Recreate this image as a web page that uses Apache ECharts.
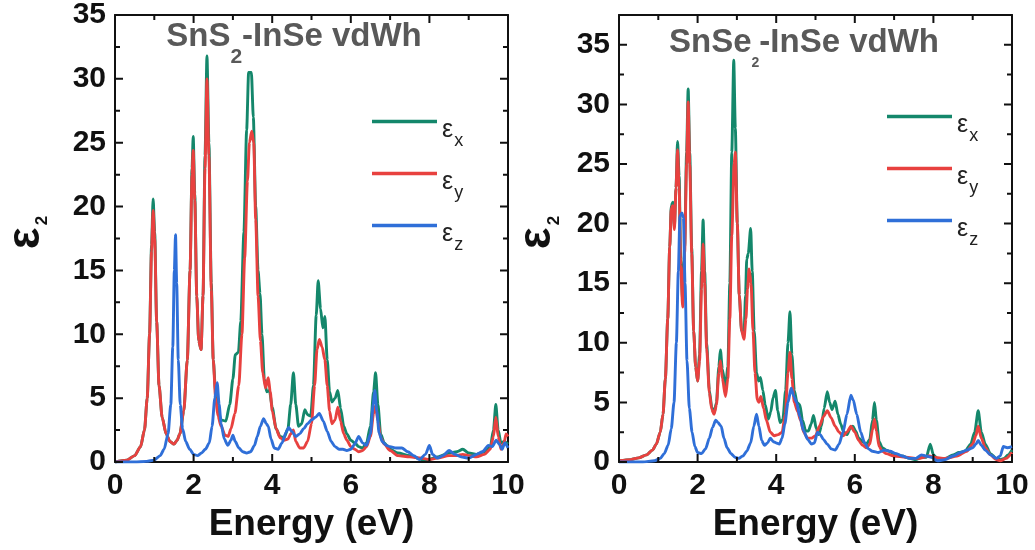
<!DOCTYPE html>
<html>
<head>
<meta charset="utf-8">
<script src="https://cdn.jsdelivr.net/npm/echarts@6/dist/echarts.min.js"></script>
<style>
  html, body { margin: 0; padding: 0; background: #fff; }
  #chart { width: 1035px; height: 550px; }
</style>
</head>
<body>
<div id="chart"></div>
<script>
// Imaginary part of the dielectric function, eps2 vs photon energy (eV)
// Each series: [energy (eV), eps2]

// SnS2-InSe heterostructure
const sns2EpsX = [[0,0],[0.3,0.15],[0.5,0.5],[0.65,1.2],[0.75,2.5],[0.82,5],[0.88,10],[0.93,17],[0.97,20.6],[1.01,18],[1.06,11],[1.12,6],[1.2,3.5],[1.3,2.2],[1.4,1.6],[1.5,1.4],[1.58,1.7],[1.65,2.2],[1.75,4],[1.84,8],[1.91,15],[1.96,23],[1.99,25.5],[2.03,21],[2.08,13],[2.13,9.5],[2.19,8.8],[2.24,13],[2.29,24],[2.34,31.8],[2.39,25],[2.45,14],[2.5,8],[2.56,5.5],[2.62,4],[2.7,3.3],[2.82,3.2],[2.92,4.5],[3.0,6.5],[3.06,8.4],[3.14,8.6],[3.2,11],[3.28,18],[3.35,26],[3.4,30.5],[3.47,30.5],[3.52,27],[3.58,20],[3.64,15],[3.69,13.2],[3.74,10],[3.8,6.5],[3.86,5.5],[3.93,5.6],[4.0,4.3],[4.1,2.6],[4.2,2.0],[4.3,1.9],[4.4,2.6],[4.47,4.5],[4.54,7.0],[4.6,4.5],[4.67,2.8],[4.75,3.0],[4.83,4.1],[4.9,3.7],[4.98,3.6],[5.05,6],[5.12,11.5],[5.17,14.2],[5.23,12],[5.29,10.5],[5.34,11.4],[5.4,8],[5.46,5.5],[5.52,4.7],[5.6,5.0],[5.67,5.6],[5.74,4.2],[5.82,2.8],[5.9,2.2],[6.0,1.7],[6.1,1.5],[6.2,1.2],[6.3,1.1],[6.4,1.5],[6.5,2.8],[6.58,5.5],[6.63,7.0],[6.69,4.5],[6.76,2.2],[6.85,1.5],[7.0,1.0],[7.2,0.7],[7.5,0.5],[7.8,0.2],[8.0,0.2],[8.2,0.4],[8.5,0.7],[8.7,0.8],[8.85,1.0],[9.0,0.7],[9.2,0.6],[9.4,0.8],[9.55,1.2],[9.63,2.5],[9.69,4.5],[9.75,2.5],[9.82,1.5],[9.9,1.6],[10,1.4]];
const sns2EpsY = [[0,0],[0.3,0.15],[0.5,0.5],[0.65,1.2],[0.75,2.5],[0.82,5],[0.88,10],[0.93,16.5],[0.97,19.7],[1.01,17.5],[1.06,11],[1.12,6],[1.2,3.5],[1.3,2.2],[1.4,1.6],[1.5,1.4],[1.58,1.7],[1.65,2.2],[1.75,4],[1.84,8],[1.91,15],[1.96,22.5],[1.99,24.4],[2.03,20.5],[2.08,13],[2.13,9.5],[2.19,8.8],[2.24,13],[2.29,23],[2.34,30.0],[2.39,24],[2.45,13.5],[2.5,8],[2.56,5],[2.62,3.6],[2.7,2.8],[2.8,2.1],[2.88,2.0],[2.95,2.6],[3.05,3.8],[3.15,6],[3.23,10],[3.3,16],[3.37,22],[3.42,25],[3.48,25.9],[3.53,25],[3.58,19],[3.64,13],[3.7,9.5],[3.76,7],[3.83,5.8],[3.9,6.6],[3.95,5.5],[4.0,4.0],[4.1,2.6],[4.2,1.9],[4.3,1.7],[4.4,1.8],[4.47,2.2],[4.54,2.5],[4.6,1.6],[4.7,1.1],[4.8,1.1],[4.9,1.6],[5.0,3.0],[5.08,6],[5.14,8.8],[5.2,9.6],[5.27,9.0],[5.34,8.0],[5.4,6],[5.46,4],[5.52,3.0],[5.6,3.3],[5.67,4.3],[5.74,3.2],[5.82,2.2],[5.9,1.7],[6.0,1.2],[6.1,1.0],[6.2,0.8],[6.3,0.9],[6.4,1.2],[6.5,2.0],[6.58,3.8],[6.63,4.4],[6.69,3.2],[6.76,1.9],[6.85,1.4],[7.0,0.9],[7.2,0.5],[7.5,0.4],[7.8,0.3],[8.0,0.2],[8.2,0.3],[8.5,0.5],[8.7,0.5],[8.85,0.6],[9.0,0.5],[9.2,0.4],[9.4,0.6],[9.55,1.0],[9.63,2.0],[9.69,3.5],[9.75,2.0],[9.82,1.0],[9.9,1.5],[9.95,2.2],[10,2.0]];
const sns2EpsZ = [[0,0],[0.5,0],[0.8,0.05],[1.0,0.15],[1.15,0.5],[1.25,1.0],[1.35,2.2],[1.42,4.5],[1.47,9],[1.51,15],[1.54,17.8],[1.57,14],[1.61,8],[1.66,4.5],[1.72,2.6],[1.8,1.6],[1.9,1.0],[2.0,0.6],[2.1,0.5],[2.2,0.7],[2.3,1.0],[2.4,1.5],[2.47,2.8],[2.54,5],[2.6,6.2],[2.65,4.5],[2.7,3],[2.78,1.8],[2.87,1.3],[2.95,1.7],[3.0,2.1],[3.06,1.6],[3.15,1.1],[3.25,0.8],[3.35,0.7],[3.45,0.8],[3.55,1.3],[3.62,2.0],[3.7,2.8],[3.78,3.4],[3.85,3.0],[3.9,2.8],[3.97,1.8],[4.05,1.1],[4.15,1.0],[4.25,1.5],[4.35,2.3],[4.42,2.7],[4.5,2.4],[4.6,2.0],[4.7,2.2],[4.8,2.6],[4.9,3.0],[5.0,3.3],[5.1,3.5],[5.2,3.8],[5.3,3.2],[5.4,2.4],[5.5,1.6],[5.6,1.2],[5.7,1.0],[5.8,1.0],[5.9,0.9],[6.0,1.0],[6.1,1.4],[6.2,2.0],[6.3,1.5],[6.4,1.3],[6.5,2.2],[6.57,4.5],[6.61,5.6],[6.66,4.0],[6.72,2.3],[6.8,1.6],[6.9,1.3],[7.0,1.2],[7.15,1.1],[7.3,1.1],[7.45,0.8],[7.6,0.5],[7.75,0.2],[7.9,0.6],[8.0,1.3],[8.08,0.6],[8.2,0.3],[8.35,0.5],[8.5,0.9],[8.65,0.6],[8.8,0.4],[9.0,0.3],[9.2,0.6],[9.35,0.8],[9.5,1.3],[9.6,1.2],[9.7,1.7],[9.78,1.4],[9.85,1.0],[9.92,1.5],[10,1.1]];

// SnSe2-InSe heterostructure
const snse2EpsX = [[0,0.1],[0.3,0.2],[0.5,0.35],[0.7,0.6],[0.85,1.0],[0.95,1.5],[1.05,2.5],[1.12,4],[1.18,7],[1.24,12],[1.29,18],[1.33,21.5],[1.37,21.8],[1.41,19.7],[1.45,23],[1.49,26.9],[1.53,24],[1.57,17],[1.62,13.5],[1.67,18],[1.72,26],[1.76,31.3],[1.8,26],[1.85,18],[1.9,11],[1.95,8],[2.0,6.8],[2.05,9],[2.1,16],[2.14,20.3],[2.18,16],[2.23,10],[2.3,6],[2.36,4.6],[2.42,4.1],[2.48,5],[2.54,8],[2.58,9.4],[2.63,7.8],[2.71,6.2],[2.77,8],[2.82,15],[2.87,26],[2.92,33.7],[2.96,28],[3.01,20],[3.06,14],[3.12,11],[3.18,10.6],[3.22,14],[3.25,17],[3.29,17.5],[3.35,19.6],[3.39,16],[3.44,11],[3.5,7.5],[3.55,6.8],[3.6,7.1],[3.66,6],[3.72,4.8],[3.8,3.6],[3.86,4.2],[3.92,5.4],[3.98,6.0],[4.04,4.3],[4.1,3.3],[4.17,3.6],[4.24,6],[4.3,10],[4.35,12.6],[4.4,9],[4.46,6],[4.53,5],[4.6,4.8],[4.67,3.5],[4.75,2.6],[4.82,2.6],[4.89,3.2],[4.95,3.9],[5.02,2.8],[5.08,2.3],[5.15,3.0],[5.22,4.5],[5.3,5.9],[5.36,5.0],[5.42,4.4],[5.5,5.1],[5.57,4.0],[5.64,3.2],[5.72,2.5],[5.8,2.3],[5.88,2.8],[5.95,3.0],[6.02,2.6],[6.1,2.0],[6.2,1.7],[6.3,1.5],[6.38,1.9],[6.45,3.5],[6.5,5.0],[6.55,3.5],[6.62,1.7],[6.7,1.2],[6.8,1.0],[7.0,0.7],[7.2,0.5],[7.4,0.3],[7.55,0.2],[7.7,0.4],[7.82,0.4],[7.92,1.5],[8.0,0.6],[8.1,0.3],[8.3,0.3],[8.5,0.6],[8.65,0.8],[8.8,0.9],[8.95,1.5],[9.05,2.5],[9.14,4.3],[9.22,2.5],[9.32,1.5],[9.45,0.7],[9.6,0.3],[9.7,0.2],[9.8,0.3],[9.9,0.6],[10,1.0]];
const snse2EpsY = [[0,0.1],[0.3,0.2],[0.5,0.35],[0.7,0.6],[0.85,1.0],[0.95,1.5],[1.05,2.5],[1.12,4],[1.18,7],[1.24,12],[1.29,18],[1.33,21.3],[1.37,21.5],[1.41,19.5],[1.45,23],[1.49,26.2],[1.53,23],[1.57,16.5],[1.62,13],[1.67,17.5],[1.72,25],[1.76,30.2],[1.8,25],[1.85,17.5],[1.9,11],[1.95,8],[2.0,6.8],[2.05,8.5],[2.1,14.5],[2.14,18.3],[2.18,15],[2.23,9.5],[2.3,5.8],[2.36,4.4],[2.42,4.0],[2.48,4.8],[2.54,7.5],[2.58,8.5],[2.63,7],[2.71,5.5],[2.77,7],[2.82,12],[2.87,19],[2.93,25],[2.96,26],[3.01,20],[3.06,14],[3.12,11],[3.18,10.3],[3.23,12],[3.27,14.5],[3.31,16.2],[3.36,15],[3.41,11],[3.46,7.5],[3.52,5.2],[3.56,5.0],[3.61,5.5],[3.68,4.5],[3.75,3.5],[3.85,2.5],[3.95,2.2],[4.05,2.3],[4.15,2.5],[4.23,4],[4.3,7.5],[4.35,9.2],[4.4,7],[4.46,5],[4.55,4.2],[4.62,3.5],[4.7,2.5],[4.8,2.0],[4.9,2.0],[5.0,2.2],[5.1,3.0],[5.2,3.8],[5.3,4.3],[5.4,3.7],[5.5,3.0],[5.6,2.5],[5.7,2.2],[5.8,2.5],[5.9,3.0],[6.0,2.5],[6.1,1.8],[6.2,1.4],[6.3,1.2],[6.38,1.5],[6.45,2.7],[6.5,3.6],[6.55,2.6],[6.62,1.3],[6.7,0.9],[6.8,0.7],[7.0,0.5],[7.3,0.4],[7.6,0.3],[7.9,0.5],[8.0,0.4],[8.3,0.3],[8.6,0.5],[8.85,0.9],[9.0,1.5],[9.08,2.2],[9.14,3.0],[9.22,2.0],[9.32,1.2],[9.45,0.6],[9.6,0.2],[9.7,0.1],[9.85,0.3],[10,0.8]];
const snse2EpsZ = [[0,0],[0.6,0],[0.9,0.1],[1.05,0.3],[1.15,0.7],[1.25,1.4],[1.33,2.8],[1.4,5],[1.46,10],[1.51,16],[1.55,20.6],[1.6,20.9],[1.64,20.5],[1.68,15],[1.73,8.5],[1.79,4.5],[1.86,2.5],[1.93,1.3],[2.0,0.8],[2.1,0.7],[2.2,1.1],[2.3,2.0],[2.38,2.9],[2.46,3.5],[2.52,3.3],[2.6,3.0],[2.67,2.0],[2.75,1.2],[2.85,0.7],[2.95,0.4],[3.05,0.3],[3.15,0.5],[3.25,0.9],[3.35,1.6],[3.43,3],[3.5,4.0],[3.56,3.0],[3.63,1.8],[3.7,1.4],[3.78,1.6],[3.85,2.0],[3.93,1.7],[4.0,1.6],[4.08,1.5],[4.15,2.0],[4.22,3.2],[4.3,5.0],[4.38,6.2],[4.45,5.5],[4.52,5.0],[4.6,3.8],[4.7,2.6],[4.8,1.9],[4.9,1.5],[4.97,1.6],[5.05,2.5],[5.12,2.3],[5.2,1.9],[5.3,1.5],[5.4,1.1],[5.5,1.0],[5.6,1.5],[5.7,2.5],[5.8,4.0],[5.9,5.6],[5.96,5.2],[6.05,4.0],[6.15,2.5],[6.25,1.6],[6.35,1.1],[6.45,0.9],[6.6,0.8],[6.75,1.0],[6.9,0.9],[7.05,0.7],[7.2,0.5],[7.4,0.3],[7.55,0.3],[7.7,0.6],[7.8,0.5],[7.95,0.4],[8.1,0.1],[8.3,0.2],[8.5,0.5],[8.7,0.8],[8.85,1.0],[9.0,1.2],[9.08,1.5],[9.14,1.8],[9.22,1.4],[9.32,1.0],[9.45,0.6],[9.6,0.3],[9.7,0.5],[9.78,1.3],[9.88,1.2],[10,1.3]];

const componentNames = ['εx', 'εy', 'εz'];
const panelTitles = [['SnS', '2', '-InSe vdWh'], ['SnSe', '2', '-InSe vdWh']];
const energyTicks = { min: 0, max: 10, interval: 2, minorInterval: 1 };
const eps2Ticks = { max: [35, 37.5], interval: 5, minorInterval: 2.5 };

const COLORS = ['#14876b', '#e8413f', '#2f6fd8'];
const FONT = '"Liberation Sans", Arial, sans-serif';
const INK = '#111';
const MAJOR_LEN = 8, MINOR_LEN = 5;   // tick lengths in pixels

const chart = echarts.init(document.getElementById('chart'), null, { renderer: 'canvas' });

const grids = [
  { left: 115, top: 15, width: 393, height: 447 },
  { left: 619, top: 15, width: 393, height: 447 }
];

const hidden = { show: false };
const frameLine = { show: true, onZero: false, lineStyle: { color: INK, width: 2 } };

// tick positions from min up to max in steps of the given interval
function tickValues(min, max, step) {
  const out = [];
  for (let i = 0; min + i * step <= max + 1e-9; i++) out.push(+(min + i * step).toFixed(6));
  return out;
}

// Inward frame ticks of panel g as broken polyline data in axis units
function frameTickData(g) {
  const r = grids[g];
  const yMax = eps2Ticks.max[g];
  const xSpan = energyTicks.max - energyTicks.min;
  const perPxX = xSpan / r.width, perPxY = yMax / r.height;
  const out = [];
  tickValues(energyTicks.min, energyTicks.max, energyTicks.minorInterval).forEach(function (x) {
    const len = ((Math.abs(x % energyTicks.interval) < 1e-9) ? MAJOR_LEN : MINOR_LEN) * perPxY;
    out.push([x, 0], [x, len], null, [x, yMax], [x, yMax - len], null);
  });
  tickValues(0, yMax, eps2Ticks.minorInterval).forEach(function (y) {
    const len = ((Math.abs(y % eps2Ticks.interval) < 1e-9) ? MAJOR_LEN : MINOR_LEN) * perPxX;
    out.push([energyTicks.min, y], [energyTicks.min + len, y], null,
             [energyTicks.max, y], [energyTicks.max - len, y], null);
  });
  return out;
}

const xAxes = [];
const yAxes = [];
[0, 1].forEach(function (g) {
  const yMax = eps2Ticks.max[g];
  xAxes.push({
    type: 'value', gridIndex: g, position: 'bottom',
    min: energyTicks.min, max: energyTicks.max, interval: energyTicks.interval,
    name: 'Energy (eV)', nameLocation: 'middle', nameGap: 44,
    nameTextStyle: { fontFamily: FONT, fontWeight: 'bold', fontSize: 37, color: INK },
    axisLine: frameLine, axisTick: hidden, splitLine: hidden,
    axisLabel: { fontFamily: FONT, fontWeight: 'bold', fontSize: 30, color: INK, margin: 9 }
  });
  xAxes.push({
    type: 'value', gridIndex: g, position: 'top',
    min: energyTicks.min, max: energyTicks.max, interval: energyTicks.interval,
    axisLine: frameLine, axisTick: hidden, axisLabel: hidden, splitLine: hidden
  });
  yAxes.push({
    type: 'value', gridIndex: g, position: 'left',
    min: 0, max: yMax, interval: eps2Ticks.interval,
    name: '{e|ε}{s|2}', nameLocation: 'middle', nameRotate: 90,
    nameGap: g === 0 ? 66 : 53,
    nameTextStyle: {
      fontFamily: FONT, color: INK, padding: [0, 0, 0, 12],
      rich: {
        e: { fontFamily: FONT, fontWeight: 'bold', fontSize: 46, lineHeight: 46, verticalAlign: 'top', color: INK },
        s: { fontFamily: FONT, fontWeight: 'bold', fontSize: 17, lineHeight: 17, verticalAlign: 'top', padding: [31, 0, 10, 2], color: INK }
      }
    },
    axisLine: frameLine, axisTick: hidden, splitLine: hidden,
    axisLabel: { fontFamily: FONT, fontWeight: 'bold', fontSize: 30, color: INK, margin: 9, showMaxLabel: g === 0 }
  });
  yAxes.push({
    type: 'value', gridIndex: g, position: 'right',
    min: 0, max: yMax, interval: eps2Ticks.interval,
    axisLine: frameLine, axisTick: hidden, axisLabel: hidden, splitLine: hidden
  });
});

const panelData = [[sns2EpsX, sns2EpsY, sns2EpsZ], [snse2EpsX, snse2EpsY, snse2EpsZ]];
const series = [];
panelData.forEach(function (sets, g) {
  sets.forEach(function (d, k) {
    series.push({
      type: 'line', name: componentNames[k],
      xAxisIndex: g * 2, yAxisIndex: g * 2,
      data: d, symbol: 'none', smooth: 0.25, smoothMonotone: 'x',
      lineStyle: { color: COLORS[k], width: 2.9 },
      itemStyle: { color: COLORS[k] },
      z: 2 + k
    });
  });
  // frame ticks pointing into the plot
  series.push({
    type: 'line', name: 'ticks' + g,
    xAxisIndex: g * 2, yAxisIndex: g * 2,
    data: frameTickData(g), symbol: 'none', smooth: false, connectNulls: false,
    clip: false, silent: true,
    lineStyle: { color: INK, width: 2, cap: 'butt' },
    itemStyle: { color: INK },
    z: 20
  });
});

function legendFor(left, top) {
  return {
    orient: 'vertical', left: left, top: top, padding: 0,
    icon: 'rect', itemWidth: 65, itemHeight: 3.5, itemGap: 10.5,
    data: componentNames,
    selectedMode: false,
    formatter: function (name) { return '{e|ε}{s|' + name.slice(1) + '}'; },
    textStyle: {
      fontFamily: FONT, color: '#222',
      rich: {
        e: { fontFamily: FONT, fontSize: 25, lineHeight: 25, verticalAlign: 'top', padding: [8.5, 0, 0, 0], color: '#222' },
        s: { fontFamily: FONT, fontSize: 18, lineHeight: 18, verticalAlign: 'top', padding: [23.5, 0, 0, 1], color: '#222' }
      }
    }
  };
}

function titleGraphic(cx, top, parts, subSize, subPad) {
  return {
    type: 'text', x: cx, y: top, silent: true,
    style: {
      text: '{a|' + parts[0] + '}{s|' + parts[1] + '}{a|' + parts[2] + '}',
      align: 'center', verticalAlign: 'top',
      rich: {
        a: { fontFamily: FONT, fontWeight: 'bold', fontSize: 33, lineHeight: 33, verticalAlign: 'top', fill: '#595959' },
        s: { fontFamily: FONT, fontWeight: 'bold', fontSize: subSize, lineHeight: subSize, verticalAlign: 'top', padding: [subPad, 0, 0, 0], fill: '#595959' }
      }
    }
  };
}

chart.setOption({
  animation: false,
  backgroundColor: '#fff',
  grid: grids,
  xAxis: xAxes,
  yAxis: yAxes,
  legend: [legendFor(372, 109), legendFor(887, 104)],
  graphic: [
    titleGraphic(294, 20, panelTitles[0], 21, 27),
    titleGraphic(804, 26, panelTitles[1], 14, 30)
  ],
  series: series
});
</script>
</body>
</html>
